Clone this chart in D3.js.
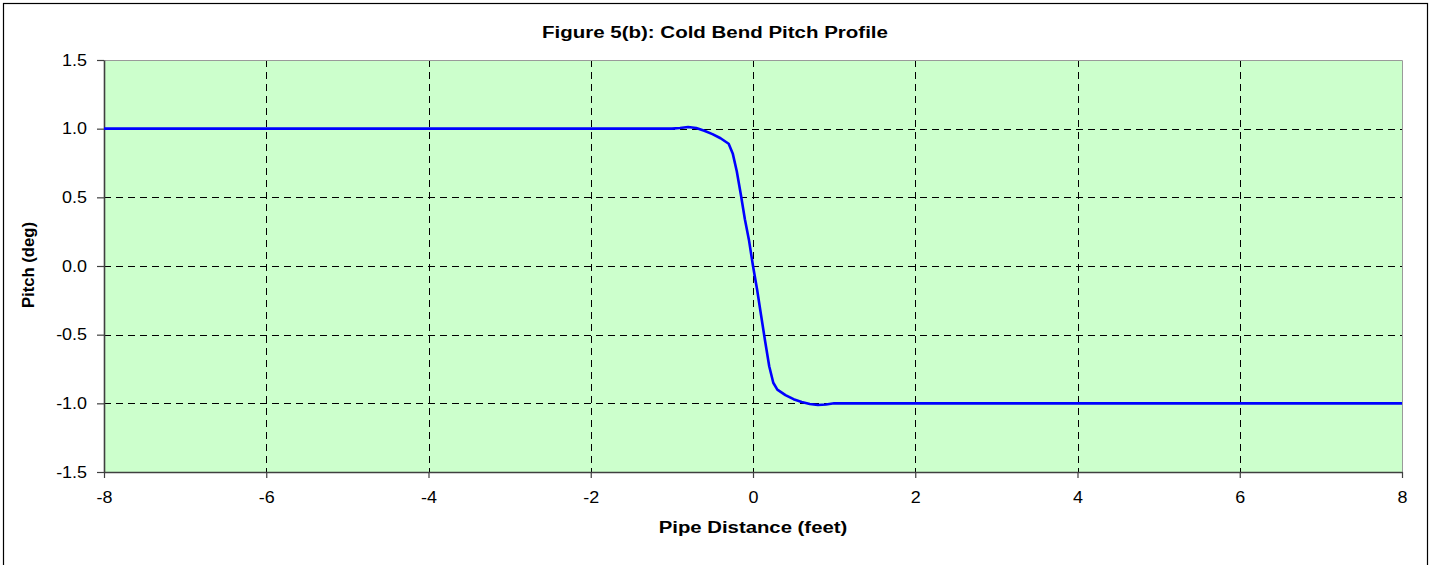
<!DOCTYPE html>
<html>
<head>
<meta charset="utf-8">
<script src="https://cdn.jsdelivr.net/npm/d3@7"></script>
<style>
  html, body { margin: 0; padding: 0; background: #fff; }
  svg { display: block; font-family: "Liberation Sans", Arial, sans-serif; }
</style>
</head>
<body>
<svg id="chart" width="1432" height="565"></svg>
<script>
// chart data
const distance = [-8, -1.0, -0.9, -0.8, -0.7, -0.6, -0.5, -0.4, -0.3, -0.25, -0.2, -0.15, -0.1, -0.05,
  0, 0.05, 0.1, 0.15, 0.2, 0.25, 0.3, 0.4, 0.5, 0.6, 0.7, 0.8, 0.9, 1.0, 8];
const pitch = [1.0, 1.0, 1.005, 1.012, 1.005, 0.985, 0.96, 0.93, 0.89, 0.82, 0.69, 0.52, 0.34, 0.19,
  0.0, -0.17, -0.36, -0.55, -0.73, -0.85, -0.9, -0.94, -0.97, -0.99, -1.005, -1.012, -1.008, -1.0, -1.0];
const xTicks = [-8, -6, -4, -2, 0, 2, 4, 6, 8];
const yTicks = [-1.5, -1.0, -0.5, 0.0, 0.5, 1.0, 1.5];

const titleText = 'Figure 5(b): Cold Bend Pitch Profile';
const xTitle = 'Pipe Distance (feet)';
const yTitle = 'Pitch (deg)';

const W = 1432, H = 565;
const plot = { left: 104, top: 60, right: 1402, bottom: 472 };

const svg = d3.select('#chart');

// the source picture is a bit wider than tall, so text gets stretched sideways
function widen(sel, k) {
  sel.each(function () {
    const w = this.getComputedTextLength();
    d3.select(this).attr('textLength', w * k).attr('lengthAdjust', 'spacingAndGlyphs');
  });
}

// outer chart border (bottom edge runs off the picture)
svg.append('rect')
  .attr('x', 3.5).attr('y', 3.5)
  .attr('width', 1424).attr('height', H + 20)
  .attr('fill', '#fff').attr('stroke', '#000').attr('stroke-width', 1.2);

const x = d3.scaleLinear().domain([-8, 8]).range([plot.left, plot.right]);
const y = d3.scaleLinear().domain([-1.5, 1.5]).range([plot.bottom, plot.top]);

// plot background
svg.append('rect')
  .attr('x', plot.left).attr('y', plot.top)
  .attr('width', plot.right - plot.left).attr('height', plot.bottom - plot.top)
  .attr('fill', '#CCFFCC');

// dashed gridlines
const grid = svg.append('g').attr('stroke', '#000').attr('stroke-width', 1).attr('stroke-dasharray', '7,5');
grid.selectAll('line.v')
  .data(xTicks.slice(1, -1))
  .enter().append('line')
  .attr('x1', d => Math.round(x(d)) + 0.5).attr('x2', d => Math.round(x(d)) + 0.5)
  .attr('y1', plot.top).attr('y2', plot.bottom);
grid.selectAll('line.h')
  .data(yTicks.slice(1, -1))
  .enter().append('line')
  .attr('y1', d => Math.round(y(d)) + 0.5).attr('y2', d => Math.round(y(d)) + 0.5)
  .attr('x1', plot.left).attr('x2', plot.right);

// plot border: light on top/right
svg.append('path')
  .attr('d', `M${plot.left},${plot.top + 0.5}H${plot.right + 0.5}V${plot.bottom}`)
  .attr('fill', 'none').attr('stroke', '#9a9a9a').attr('stroke-width', 1);

// axes
const xAxis = d3.axisBottom(x).tickValues(xTicks).tickSize(6).tickSizeOuter(0).tickPadding(14);
const yAxis = d3.axisLeft(y).tickValues(yTicks).tickSize(7).tickSizeOuter(0).tickPadding(10);

const gx = svg.append('g').attr('transform', `translate(0,${plot.bottom})`).call(xAxis);
const gy = svg.append('g').attr('transform', `translate(${plot.left},0)`).call(yAxis);

[gx, gy].forEach(g => {
  g.select('.domain').attr('stroke', '#404040').attr('stroke-width', 1.6);
  g.selectAll('.tick line').attr('stroke', '#404040').attr('stroke-width', 1.2);
  g.selectAll('.tick text')
    .attr('fill', '#000')
    .style('font-family', '"Liberation Sans", Arial, sans-serif')
    .style('font-size', '16px');
});
gy.selectAll('.tick text').text(d => d.toFixed(1));
gx.selectAll('.tick text').text(d => String(d));
widen(gy.selectAll('.tick text'), 1.12);
widen(gx.selectAll('.tick text'), 1.12);

// pitch line
const line = d3.line()
  .x((d, i) => x(distance[i]))
  .y(d => y(d));

svg.append('path')
  .datum(pitch)
  .attr('d', line)
  .attr('fill', 'none')
  .attr('stroke', '#0000FF')
  .attr('stroke-width', 2.6)
  .attr('stroke-linejoin', 'round');

// titles
svg.append('text')
  .attr('x', 715).attr('y', 38)
  .attr('text-anchor', 'middle')
  .style('font-size', '16px').style('font-weight', 'bold')
  .text(titleText)
  .call(widen, 1.28);

svg.append('text')
  .attr('x', (plot.left + plot.right) / 2).attr('y', 533)
  .attr('text-anchor', 'middle')
  .style('font-size', '16px').style('font-weight', 'bold')
  .text(xTitle)
  .call(widen, 1.27);

svg.append('text')
  .attr('transform', `translate(34,${(plot.top + plot.bottom) / 2 - 1}) rotate(-90)`)
  .attr('text-anchor', 'middle')
  .style('font-size', '16px').style('font-weight', 'bold')
  .text(yTitle)
  .call(widen, 1.04);
</script>
</body>
</html>
